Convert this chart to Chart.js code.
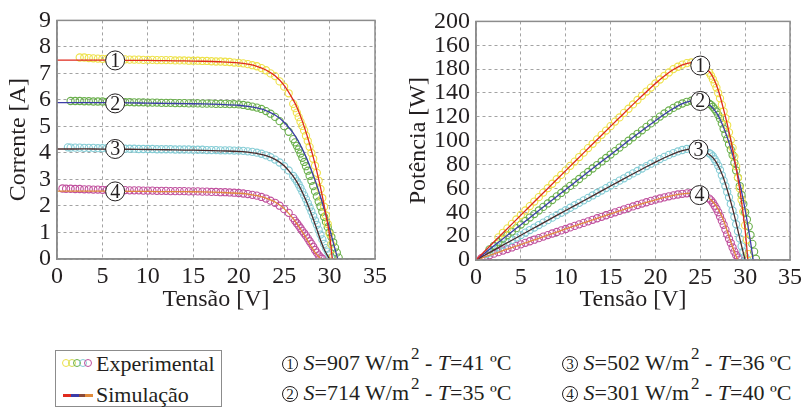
<!DOCTYPE html>
<html>
<head>
<meta charset="utf-8">
<script src="https://cdn.jsdelivr.net/npm/chart.js@4/dist/chart.umd.min.js"></script>
<style>
  body { margin: 0; background: #fff; width: 805px; height: 409px; overflow: hidden; position: relative;
         font-family: "Liberation Serif", "Times New Roman", serif; color: #231f20; }
  .box { position: absolute; }
  .legend { position: absolute; left: 55px; top: 350px; width: 165px; height: 55px; border: 1px solid #8c8c8c; }
  .txt { position: absolute; font-size: 22px; line-height: 26px; white-space: nowrap; }
  .circ { display: inline-block; width: 14px; height: 14px; border: 1px solid #231f20; border-radius: 50%;
          font-size: 15px; line-height: 15px; text-align: center; vertical-align: 1px; }
  sup { font-size: 17px; vertical-align: 11px; line-height: 0; margin-left: 2px; }
  .dot { position: absolute; width: 6px; height: 6px; border: 1.2px solid; border-radius: 50%; top: 359px; }
  .seg { position: absolute; height: 3px; top: 394px; }
</style>
</head>
<body>
<div class="box" style="left:0;top:0;"><canvas id="ivChart" width="400" height="318"></canvas></div>
<div class="box" style="left:400px;top:1px;"><canvas id="pvChart" width="405" height="318"></canvas></div>

<div class="legend"></div>
<div class="dot" style="left:62px;border-color:#eee24a;"></div>
<div class="dot" style="left:67.5px;border-color:#d4dc52;"></div>
<div class="dot" style="left:73px;border-color:#6ab04c;"></div>
<div class="dot" style="left:78.5px;border-color:#86cdd6;"></div>
<div class="dot" style="left:84px;border-color:#c0509e;"></div>
<div class="seg" style="left:63px;width:8px;background:#e02a1e;"></div>
<div class="seg" style="left:71px;width:8px;background:#3c3ca8;"></div>
<div class="seg" style="left:79px;width:6px;background:#8a4a3a;"></div>
<div class="seg" style="left:85px;width:8px;background:#e08a3a;"></div>
<div class="txt" style="left:96px;top:351px;">Experimental</div>
<div class="txt" style="left:96px;top:382px;">Simulação</div>

<div class="txt" style="left:282px;top:350px;"><span class="circ">1</span> <i>S</i>=907 W/m<sup>2</sup> - <i>T</i>=41 ºC</div>
<div class="txt" style="left:282px;top:380px;"><span class="circ">2</span> <i>S</i>=714 W/m<sup>2</sup> - <i>T</i>=35 ºC</div>
<div class="txt" style="left:562px;top:350px;"><span class="circ">3</span> <i>S</i>=502 W/m<sup>2</sup> - <i>T</i>=36 ºC</div>
<div class="txt" style="left:562px;top:380px;"><span class="circ">4</span> <i>S</i>=301 W/m<sup>2</sup> - <i>T</i>=40 ºC</div>

<script>
// ---- data: [tensão V, corrente A] / [tensão V, potência W] ----
const curveNames = ['1', '2', '3', '4'];
const powerTickLabels = ['0', '20', '40', '60', '80', '100', '120', '140', '180', '160', '200'];

const expIV1 = [[2.5,7.60],[3,7.60],[3.5,7.58],[4,7.57],[4.5,7.56],[5,7.55],[5.5,7.55],[6,7.54],[6.5,7.54],[7,7.53],[7.5,7.53],[8,7.52],[8.5,7.52],[9,7.52],[9.5,7.51],[10,7.51],[10.5,7.51],[11,7.50],[11.5,7.50],[12,7.50],[12.5,7.50],[13,7.49],[13.5,7.49],[14,7.49],[14.5,7.48],[15,7.48],[15.5,7.48],[16,7.47],[16.5,7.47],[17,7.46],[17.5,7.45],[18,7.45],[18.5,7.44],[19,7.43],[19.5,7.41],[20,7.40],[20.5,7.38],[21,7.35],[21.5,7.31],[22,7.27],[22.5,7.20],[23,7.12],[23.5,7.00],[24,6.90],[24.5,6.70],[25,6.50],[25.5,6.25],[26,5.85],[26.2,5.69],[26.4,5.52],[26.6,5.35],[26.8,5.18],[27,5.02],[27.2,4.85],[27.4,4.65],[27.6,4.45],[27.8,4.23],[28,4.00],[28.2,3.78],[28.4,3.52],[28.6,3.25],[28.8,2.95],[29,2.64],[29.2,2.30],[29.4,1.97],[29.6,1.64],[29.8,1.32],[30,0.95],[30.2,0.55],[30.4,0.12]];
const expIV2 = [[1.5,5.96],[2,5.96],[2.5,5.96],[3,5.95],[3.5,5.95],[4,5.94],[4.5,5.94],[5,5.94],[5.5,5.93],[6,5.93],[6.5,5.93],[7,5.92],[7.5,5.92],[8,5.92],[8.5,5.91],[9,5.91],[9.5,5.91],[10,5.90],[10.5,5.90],[11,5.90],[11.5,5.89],[12,5.89],[12.5,5.89],[13,5.88],[13.5,5.88],[14,5.88],[14.5,5.87],[15,5.87],[15.5,5.87],[16,5.86],[16.5,5.86],[17,5.86],[17.5,5.85],[18,5.85],[18.5,5.85],[19,5.84],[19.5,5.84],[20,5.83],[20.5,5.81],[21,5.78],[21.5,5.75],[22,5.71],[22.5,5.66],[23,5.58],[23.5,5.48],[24,5.36],[24.5,5.20],[25,5.01],[25.5,4.80],[26,4.52],[26.2,4.40],[26.4,4.27],[26.6,4.13],[26.8,3.98],[27,3.82],[27.2,3.66],[27.4,3.50],[27.6,3.33],[27.8,3.14],[28,2.95],[28.2,2.75],[28.4,2.55],[28.6,2.36],[28.8,2.17],[29,1.98],[29.2,1.78],[29.4,1.59],[29.6,1.40],[29.8,1.20],[30,1.01],[30.2,0.83],[30.4,0.63],[30.6,0.43],[30.8,0.24],[31,0.05]];
const expIV3 = [[1.2,4.21],[1.5,4.20],[2,4.20],[2.5,4.20],[3,4.19],[3.5,4.19],[4,4.19],[4.5,4.18],[5,4.18],[5.5,4.18],[6,4.17],[6.5,4.17],[7,4.17],[7.5,4.16],[8,4.16],[8.5,4.16],[9,4.15],[9.5,4.15],[10,4.15],[10.5,4.15],[11,4.14],[11.5,4.14],[12,4.14],[12.5,4.14],[13,4.13],[13.5,4.13],[14,4.13],[14.5,4.13],[15,4.12],[15.5,4.12],[16,4.12],[16.5,4.11],[17,4.11],[17.5,4.11],[18,4.10],[18.5,4.10],[19,4.10],[19.5,4.09],[20,4.09],[20.5,4.08],[21,4.06],[21.5,4.04],[22,4.01],[22.5,3.97],[23,3.91],[23.5,3.84],[24,3.75],[24.5,3.64],[25,3.50],[25.5,3.34],[26,3.13],[26.2,3.03],[26.4,2.93],[26.6,2.81],[26.8,2.68],[27,2.54],[27.2,2.40],[27.4,2.26],[27.6,2.11],[27.8,1.95],[28,1.79],[28.2,1.62],[28.4,1.45],[28.6,1.29],[28.8,1.10],[29,0.92],[29.2,0.74],[29.4,0.57],[29.6,0.41],[29.8,0.28],[30,0.14],[30.2,0.04]];
const expIV4 = [[0.6,2.66],[1,2.65],[1.5,2.65],[2,2.64],[2.5,2.64],[3,2.63],[3.5,2.63],[4,2.62],[4.5,2.62],[5,2.61],[5.5,2.61],[6,2.61],[6.5,2.60],[7,2.60],[7.5,2.60],[8,2.59],[8.5,2.59],[9,2.59],[9.5,2.58],[10,2.58],[10.5,2.58],[11,2.57],[11.5,2.57],[12,2.57],[12.5,2.56],[13,2.56],[13.5,2.56],[14,2.56],[14.5,2.55],[15,2.55],[15.5,2.55],[16,2.54],[16.5,2.54],[17,2.53],[17.5,2.53],[18,2.52],[18.5,2.52],[19,2.51],[19.5,2.50],[20,2.49],[20.5,2.47],[21,2.45],[21.5,2.42],[22,2.39],[22.5,2.34],[23,2.28],[23.5,2.20],[24,2.12],[24.5,2.01],[25,1.88],[25.5,1.74],[26,1.54],[26.2,1.44],[26.4,1.35],[26.6,1.26],[26.8,1.16],[27,1.06],[27.2,0.97],[27.4,0.88],[27.6,0.78],[27.8,0.67],[28,0.57],[28.2,0.46],[28.4,0.34],[28.6,0.24],[28.8,0.14],[29,0.06],[29.2,0.01]];

const simIV1 = [[0,7.50],[2,7.50],[4,7.50],[6,7.50],[8,7.49],[10,7.49],[12,7.48],[14,7.47],[16,7.46],[18,7.44],[20,7.40],[21,7.35],[22,7.27],[23,7.13],[24,6.91],[25,6.55],[26,6.00],[26.5,5.65],[27,5.20],[27.5,4.68],[28,4.10],[28.5,3.45],[29,2.70],[29.5,1.85],[30,0.90],[30.3,0]];
const simIV2 = [[0,5.90],[2,5.90],[4,5.90],[6,5.90],[8,5.89],[10,5.88],[12,5.87],[14,5.86],[16,5.85],[18,5.83],[20,5.80],[21,5.76],[22,5.70],[23,5.60],[24,5.43],[25,5.16],[26,4.75],[26.5,4.48],[27,4.15],[27.5,3.78],[28,3.35],[28.5,2.88],[29,2.35],[29.5,1.78],[30,1.15],[30.5,0.50],[30.9,0]];
const simIV3 = [[0,4.15],[2,4.15],[4,4.15],[6,4.14],[8,4.14],[10,4.13],[12,4.12],[14,4.11],[16,4.10],[18,4.08],[20,4.06],[21,4.03],[22,3.98],[23,3.90],[24,3.76],[25,3.52],[26,3.12],[26.5,2.85],[27,2.52],[27.5,2.13],[28,1.70],[28.5,1.22],[29,0.72],[29.5,0.30],[30,0]];
const simIV4 = [[0,2.56],[2,2.56],[4,2.56],[6,2.56],[8,2.55],[10,2.55],[12,2.54],[14,2.54],[16,2.53],[18,2.51],[20,2.48],[21,2.45],[22,2.39],[23,2.30],[24,2.15],[25,1.90],[26,1.52],[26.5,1.28],[27,1.02],[27.5,0.75],[28,0.46],[28.5,0.20],[29,0.02],[29.1,0]];

const expPV1 = [[2.5,19.0],[3,22.8],[3.5,26.5],[4,30.3],[4.5,34.0],[5,37.8],[5.5,41.5],[6,45.2],[6.5,49.0],[7,52.7],[7.5,56.5],[8,60.2],[8.5,63.9],[9,67.7],[9.5,71.3],[10,75.1],[10.5,78.9],[11,82.5],[11.5,86.3],[12,90.0],[12.5,93.8],[13,97.4],[13.5,101.1],[14,104.9],[14.5,108.5],[15,112.2],[15.5,116.0],[16,119.5],[16.5,123.3],[17,126.8],[17.5,130.4],[18,134.1],[18.5,137.6],[19,141.2],[19.5,144.5],[20,148.0],[20.5,151.3],[21,154.4],[21.5,157.2],[22,160.0],[22.5,162.0],[23,163.8],[23.5,165.0],[24,165.6],[24.5,165.4],[25,164.0],[25.5,161.5],[26,157.0],[26.2,154.5],[26.4,151.5],[26.6,148.0],[26.8,144.5],[27,140.0],[27.2,135.5],[27.4,130.0],[27.6,124.5],[27.8,119.0],[28,113.0],[28.2,107.0],[28.4,100.5],[28.6,94.0],[28.8,86.5],[29,78.5],[29.2,69.0],[29.4,60.0],[29.6,50.5],[29.8,40.5],[30,29.0],[30.2,17.0],[30.4,5.0]];
const expPV2 = [[1.5,8.9],[2,11.9],[2.5,14.9],[3,17.9],[3.5,20.8],[4,23.8],[4.5,26.7],[5,29.7],[5.5,32.7],[6,35.6],[6.5,38.5],[7,41.5],[7.5,44.5],[8,47.4],[8.5,50.3],[9,53.3],[9.5,56.2],[10,59.1],[10.5,62.1],[11,65.0],[11.5,67.9],[12,70.9],[12.5,73.8],[13,76.7],[13.5,79.6],[14,82.6],[14.5,85.5],[15,88.4],[15.5,91.3],[16,94.2],[16.5,97.1],[17,100.0],[17.5,102.9],[18,105.8],[18.5,108.7],[19,111.6],[19.5,114.5],[20,117.5],[20.5,120.2],[21,122.8],[21.5,125.3],[22,127.5],[22.5,129.5],[23,131.2],[23.5,132.6],[24,133.5],[24.5,134.0],[25,133.5],[25.5,132.5],[26,131.0],[26.2,130.0],[26.4,128.5],[26.6,126.5],[26.8,124.5],[27,121.5],[27.2,118.5],[27.4,114.5],[27.6,110.0],[27.8,105.5],[28,101.5],[28.2,97.0],[28.4,92.5],[28.6,88.0],[28.8,81.5],[29,75.0],[29.2,69.0],[29.4,62.0],[29.6,54.5],[29.8,47.0],[30,40.0],[30.2,34.0],[30.4,28.0],[30.6,21.0],[30.8,13.5],[31,7.0],[31.2,1.0]];
const expPV3 = [[1.2,5.0],[1.5,6.3],[2,8.4],[2.5,10.5],[3,12.6],[3.5,14.7],[4,16.8],[4.5,18.8],[5,20.9],[5.5,23.0],[6,25.1],[6.5,27.2],[7,29.3],[7.5,31.3],[8,33.4],[8.5,35.5],[9,37.6],[9.5,39.6],[10,41.7],[10.5,43.8],[11,45.9],[11.5,47.9],[12,50.0],[12.5,52.1],[13,54.1],[13.5,56.2],[14,58.2],[14.5,60.3],[15,62.4],[15.5,64.4],[16,66.5],[16.5,68.5],[17,70.6],[17.5,72.6],[18,74.6],[18.5,76.7],[19,78.7],[19.5,80.7],[20,82.7],[20.5,84.6],[21,86.4],[21.5,88.1],[22,89.6],[22.5,91.0],[23,92.2],[23.5,93.1],[24,93.6],[24.5,93.5],[25,92.5],[25.5,91.0],[26,89.5],[26.2,88.5],[26.4,87.0],[26.6,84.5],[26.8,82.0],[27,79.0],[27.2,75.5],[27.4,71.0],[27.6,66.5],[27.8,62.0],[28,57.0],[28.2,52.5],[28.4,47.0],[28.6,41.5],[28.8,36.0],[29,30.0],[29.2,24.0],[29.4,18.0],[29.6,11.5],[29.8,7.0],[30,3.0],[30.2,0.5]];
const expPV4 = [[0.6,1.6],[1,2.6],[1.5,4.0],[2,5.3],[2.5,6.6],[3,7.9],[3.5,9.2],[4,10.5],[4.5,11.8],[5,13.1],[5.5,14.4],[6,15.7],[6.5,17.0],[7,18.3],[7.5,19.6],[8,20.9],[8.5,22.2],[9,23.5],[9.5,24.8],[10,26.0],[10.5,27.3],[11,28.6],[11.5,29.9],[12,31.1],[12.5,32.4],[13,33.7],[13.5,35.0],[14,36.2],[14.5,37.5],[15,38.7],[15.5,40.0],[16,41.2],[16.5,42.5],[17,43.7],[17.5,44.9],[18,46.1],[18.5,47.3],[19,48.4],[19.5,49.6],[20,50.6],[20.5,51.6],[21,52.5],[21.5,53.4],[22,54.2],[22.5,54.9],[23,55.5],[23.5,55.9],[24,56.2],[24.5,56.1],[25,55.5],[25.5,54.0],[26,51.5],[26.2,50.0],[26.4,48.0],[26.6,45.5],[26.8,43.0],[27,40.0],[27.2,36.5],[27.4,33.0],[27.6,29.5],[27.8,25.5],[28,21.5],[28.2,17.8],[28.4,14.2],[28.6,10.5],[28.8,7.0],[29,4.0],[29.2,2.0],[29.4,0.3]];

const simPV1 = [[0,0],[2,15.1],[4,30.1],[6,45.1],[8,60.0],[10,74.9],[12,89.8],[14,104.6],[16,119.4],[18,134.0],[20,148.0],[21,154.3],[22,159.7],[23,163.6],[24,165.5],[25,164.5],[26,158.0],[26.5,152.0],[27,142.5],[27.5,129.0],[28,114.0],[28.5,97.0],[29,77.0],[29.5,54.0],[30,25.0],[30.3,0]];
const simPV2 = [[0,0],[2,11.9],[4,23.7],[6,35.5],[8,47.3],[10,59.1],[12,70.8],[14,82.5],[16,94.1],[18,105.6],[20,116.8],[21,122.2],[22,127.0],[23,131.0],[24,133.4],[25,133.2],[26,130.0],[26.5,126.5],[27,121.0],[27.5,113.0],[28,103.0],[28.5,91.0],[29,77.0],[29.5,61.0],[30,42.0],[30.5,20.0],[30.9,0]];
const simPV3 = [[0,0],[2,8.3],[4,16.6],[6,24.9],[8,33.2],[10,41.5],[12,49.7],[14,57.9],[16,66.1],[18,74.2],[20,82.0],[21,85.7],[22,89.0],[23,91.6],[24,93.2],[25,92.5],[26,88.5],[26.5,85.0],[27,79.0],[27.5,70.5],[28,59.0],[28.5,46.0],[29,31.0],[29.5,15.0],[30,0]];
const simPV4 = [[0,0],[2,5.2],[4,10.4],[6,15.6],[8,20.8],[10,26.0],[12,31.1],[14,36.2],[16,41.2],[18,46.0],[20,50.4],[21,52.4],[22,54.2],[23,55.5],[24,56.0],[25,55.0],[26,51.5],[26.5,48.0],[27,42.5],[27.5,35.0],[28,24.5],[28.5,13.0],[29,3.0],[29.2,0]];

// where the numbered circles sit on each panel
const ivMarkV = [6.4, 6.4, 6.4, 6.4];
const ivMarkI = [7.49, 5.87, 4.15, 2.55];
const pvMarkV = [25.0, 25.0, 24.8, 24.9];
const pvMarkP = [163, 133.3, 92.5, 54.4];

const expColors = ['#eee24a', '#6ab04c', '#86cdd6', '#c0509e'];
const simColors = ['#e02a1e', '#3c3ca8', '#4a2a2a', '#e08a3a'];

const toXY = arr => arr.map(p => ({ x: p[0], y: p[1] }));
const serif = { family: '"Liberation Serif", "Times New Roman", serif', size: 24 };
const ink = '#231f20';

function buildDatasets(expSets, simSets) {
    const sets = [];
    simSets.forEach((s, i) => sets.push({
        data: toXY(s), showLine: true, borderColor: simColors[i], borderWidth: 1.3,
        pointRadius: 0, tension: 0.35, order: 0
    }));
    expSets.forEach((s, i) => sets.push({
        data: toXY(s), showLine: false, pointRadius: 3.6, pointBorderWidth: 1.1,
        pointBorderColor: expColors[i], pointBackgroundColor: 'rgba(255,255,255,0)', order: 1
    }));
    return sets;
}

function makeScales(yMax, yStep, yTitle, yWidth, titleOffset, yLabelFn) {
    return {
        x: {
            type: 'linear', min: 0, max: 35,
            ticks: { stepSize: 5, padding: 3, color: ink, font: serif, autoSkip: false, maxRotation: 0 },
            grid: { color: '#a3a3a3', lineWidth: 1, drawTicks: false },
            border: { color: '#8c8c8c', width: 1.5, dash: [3, 3] },
            title: { display: true, text: 'Tensão [V]', color: ink, font: serif, padding: { top: 4, bottom: titleOffset } },
            afterFit: s => { s.height = 59; }
        },
        y: {
            min: 0, max: yMax,
            ticks: { stepSize: yStep, padding: 6, color: ink, font: serif, autoSkip: false, callback: yLabelFn },
            grid: { color: '#a3a3a3', lineWidth: 1, drawTicks: false },
            border: { color: '#8c8c8c', width: 1.5, dash: [3, 3] },
            title: { display: true, text: yTitle, color: ink, font: serif, padding: { top: 4, bottom: 0 } },
            afterFit: s => { s.width = yWidth; }
        }
    };
}

// frame round the plot area and the numbered circles on the curves
function markerPlugin(markX, markY) {
    return {
        id: 'markers',
        afterDatasetsDraw(chart) {
            const ctx = chart.ctx;
            const a = chart.chartArea;
            ctx.save();
            ctx.strokeStyle = '#8c8c8c';
            ctx.lineWidth = 1.5;
            ctx.strokeRect(a.left, a.top, a.right - a.left, a.bottom - a.top);
            const xs = chart.scales.x, ys = chart.scales.y;
            curveNames.forEach((name, i) => {
                const px = xs.getPixelForValue(markX[i]);
                const py = ys.getPixelForValue(markY[i]);
                ctx.beginPath();
                ctx.arc(px, py, 9.5, 0, Math.PI * 2);
                ctx.fillStyle = '#fff';
                ctx.fill();
                ctx.strokeStyle = ink;
                ctx.lineWidth = 1;
                ctx.stroke();
                ctx.fillStyle = ink;
                ctx.font = '20px "Liberation Serif", serif';
                ctx.textAlign = 'center';
                ctx.textBaseline = 'middle';
                ctx.fillText(name, px, py + 1);
            });
            ctx.restore();
        }
    };
}

const common = {
    responsive: false,
    animation: false,
    devicePixelRatio: 1,
    plugins: { legend: { display: false }, tooltip: { enabled: false } }
};

new Chart(document.getElementById('ivChart').getContext('2d'), {
    type: 'scatter',
    data: { datasets: buildDatasets([expIV1, expIV2, expIV3, expIV4], [simIV1, simIV2, simIV3, simIV4]) },
    options: Object.assign({}, common, {
        layout: { padding: { left: 0, right: 25, top: 15, bottom: 0 } },
        scales: makeScales(9, 1, 'Corrente [A]', 57, 4, v => v)
    }),
    plugins: [markerPlugin(ivMarkV, ivMarkI)]
});

new Chart(document.getElementById('pvChart').getContext('2d'), {
    type: 'scatter',
    data: { datasets: buildDatasets([expPV1, expPV2, expPV3, expPV4], [simPV1, simPV2, simPV3, simPV4]) },
    options: Object.assign({}, common, {
        layout: { padding: { left: 0, right: 11, top: 15, bottom: 0 } },
        scales: makeScales(200, 20, 'Potência [W]', 76, 5, (v, i) => powerTickLabels[i])
    }),
    plugins: [markerPlugin(pvMarkV, pvMarkP)]
});
</script>
</body>
</html>
